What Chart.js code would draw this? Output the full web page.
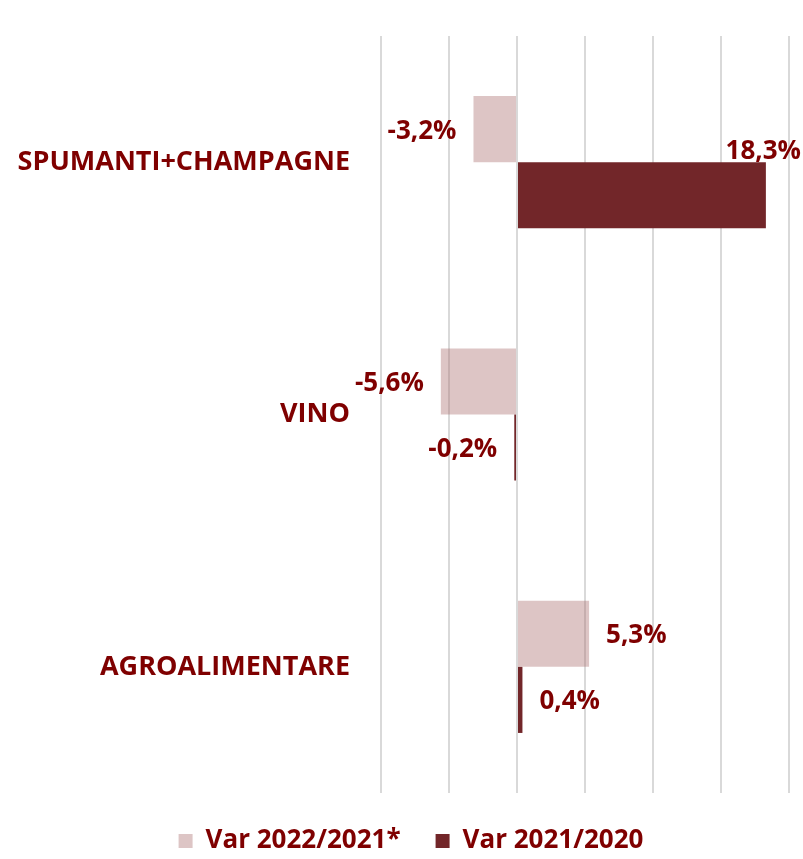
<!DOCTYPE html>
<html>
<head>
<meta charset="utf-8">
<script src="https://cdn.jsdelivr.net/npm/chart.js@4"></script>
<style>
  html, body { margin: 0; padding: 0; background: #fff; }
  #wrap { width: 803px; height: 859px; }
</style>
</head>
<body>
<div id="wrap"><canvas id="varChart"></canvas></div>
<script>
const categories = ["SPUMANTI+CHAMPAGNE", "VINO", "AGROALIMENTARE"];
const var2022 = [-3.2, -5.6, 5.3];
const var2021 = [18.3, -0.2, 0.4];
const seriesNames = ["Var 2022/2021*", "Var 2021/2020"];

const textColor = "#7f0000";
const fontFamily = "'Open Sans', Lato, sans-serif";
const fontSize = 26;

// etichette dei valori, fuori dalla barra
const valueLabels = {
  id: "valueLabels",
  afterDatasetsDraw(chart) {
    const ctx = chart.ctx;
    ctx.save();
    ctx.fillStyle = textColor;
    ctx.font = "bold " + fontSize + "px " + fontFamily;
    ctx.textBaseline = "middle";
    chart.data.datasets.forEach((ds, i) => {
      chart.getDatasetMeta(i).data.forEach((bar, j) => {
        const v = ds.data[j];
        const txt = v.toFixed(1).replace(".", ",") + "%";
        const w = ctx.measureText(txt).width;
        if (v >= 0 && bar.x + 17 + w > chart.width) {
          // non entra a destra: sopra la fine della barra
          ctx.textAlign = "right";
          ctx.fillText(txt, chart.width - 2, bar.y - bar.height / 2 - 11);
        } else if (v >= 0) {
          ctx.textAlign = "left";
          ctx.fillText(txt, bar.x + 17, bar.y + 2);
        } else {
          ctx.textAlign = "right";
          ctx.fillText(txt, bar.x - 17, bar.y + 2);
        }
      });
    });
    ctx.restore();
  }
};

// legenda centrata un po' più a destra
const legendShift = {
  id: "legendShift",
  afterLayout(chart) {
    chart.legend.left += 33;
  }
};

new Chart(document.getElementById("varChart"), {
  type: "bar",
  data: {
    labels: categories,
    datasets: [
      {
        label: seriesNames[0],
        data: var2022,
        backgroundColor: "rgba(170, 110, 110, 0.4)",
        barPercentage: 1,
        categoryPercentage: 0.524
      },
      {
        label: seriesNames[1],
        data: var2021,
        backgroundColor: "#722629",
        barPercentage: 1,
        categoryPercentage: 0.524
      }
    ]
  },
  options: {
    indexAxis: "y",
    responsive: true,
    maintainAspectRatio: false,
    animation: false,
    layout: {
      padding: { top: 36, right: 14, left: 0, bottom: -5 }
    },
    plugins: {
      legend: {
        position: "bottom",
        labels: {
          color: textColor,
          boxWidth: 14,
          boxHeight: 14,
          padding: 35,
          font: { family: fontFamily, size: fontSize, weight: "bold" }
        }
      },
      tooltip: { enabled: false }
    },
    scales: {
      x: {
        min: -10,
        max: 20,
        ticks: { display: false, stepSize: 5 },
        grid: { color: "#d9d9d9", lineWidth: 2, drawTicks: false },
        border: { display: false }
      },
      y: {
        afterFit: scale => { scale.width = 381; },
        ticks: {
          color: textColor,
          padding: 0,
          font: { family: fontFamily, size: 27, weight: "bold" }
        },
        grid: {
          display: true,
          drawOnChartArea: false,
          drawTicks: true,
          tickLength: 31,
          color: "rgba(0,0,0,0)"
        },
        border: { display: false }
      }
    }
  },
  plugins: [valueLabels, legendShift]
});
</script>
</body>
</html>
